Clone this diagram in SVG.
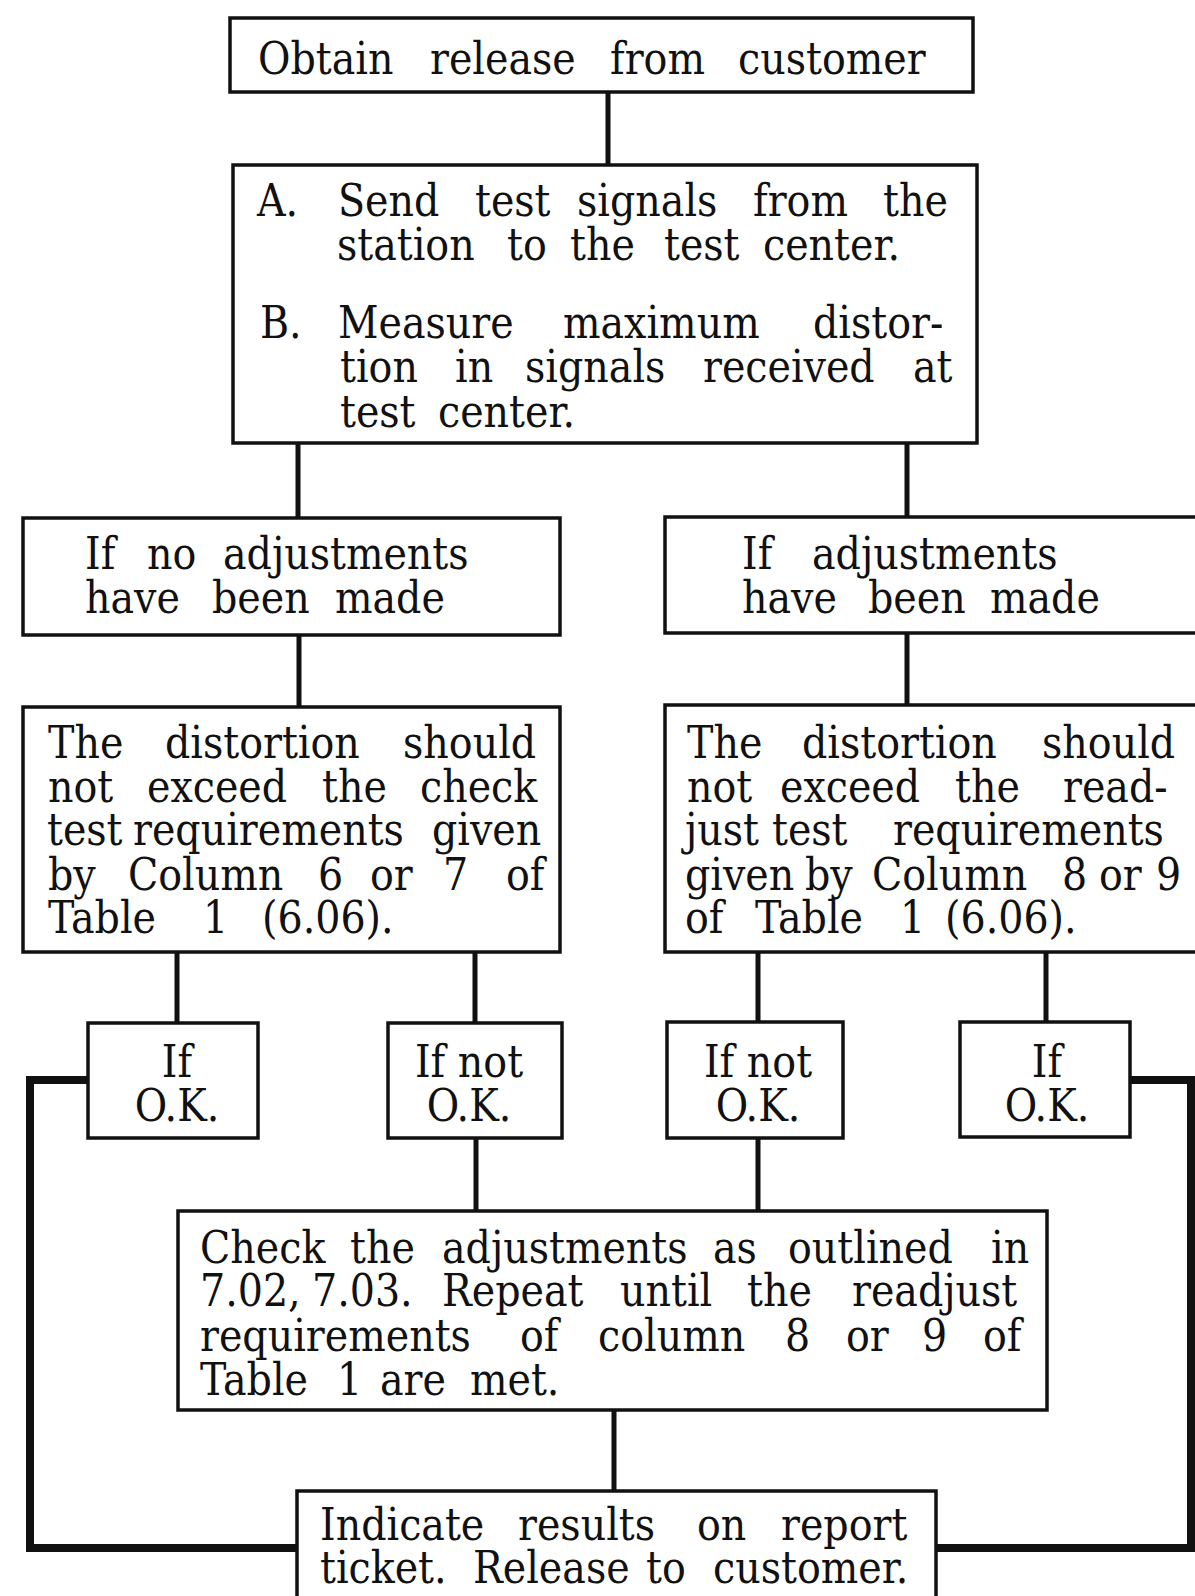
<svg xmlns="http://www.w3.org/2000/svg" width="1195" height="1596" viewBox="0 0 1195 1596">
<style>
.bg{fill:#ffffff}
.box{fill:#ffffff;stroke:#111;stroke-width:3.5}
.con{fill:none;stroke:#111;stroke-width:5}
.loop{fill:none;stroke:#111;stroke-width:8}
.t{font-family:'DejaVu Serif Condensed','DejaVu Serif',serif;font-stretch:condensed;font-size:44px;fill:#111}
.c{text-anchor:middle}
</style>
<rect class="bg" x="0" y="0" width="1195" height="1596"/>
<g id="connectors">
<line class="con" x1="608" y1="92" x2="608" y2="165"/>
<line class="con" x1="298" y1="443" x2="298" y2="518"/>
<line class="con" x1="907" y1="443" x2="907" y2="517"/>
<line class="con" x1="299" y1="635" x2="299" y2="707"/>
<line class="con" x1="907" y1="633" x2="907" y2="705"/>
<line class="con" x1="177" y1="952" x2="177" y2="1023"/>
<line class="con" x1="475" y1="952" x2="475" y2="1023"/>
<line class="con" x1="758" y1="952" x2="758" y2="1022"/>
<line class="con" x1="1046" y1="952" x2="1046" y2="1022"/>
<line class="con" x1="476" y1="1138" x2="476" y2="1211"/>
<line class="con" x1="758" y1="1138" x2="758" y2="1211"/>
<line class="con" x1="614" y1="1410" x2="614" y2="1491"/>
<polyline class="loop" points="88,1080 30,1080 30,1548 297,1548"/>
<polyline class="loop" points="1130,1080 1191,1080 1191,1548 936,1548"/>
</g>
<g id="n1">
<rect class="box" x="230" y="18" width="743" height="74"/>
<text class="t" y="74"><tspan x="258">Obtain</tspan><tspan x="430">release</tspan><tspan x="610">from</tspan><tspan x="738">customer</tspan></text>
</g>
<g id="n2">
<rect class="box" x="233" y="165" width="744" height="278"/>
<text class="t" y="216"><tspan x="257">A.</tspan><tspan x="338">Send</tspan><tspan x="475">test</tspan><tspan x="577">signals</tspan><tspan x="753">from</tspan><tspan x="883">the</tspan></text>
<text class="t" y="260"><tspan x="337">station</tspan><tspan x="507">to</tspan><tspan x="570">the</tspan><tspan x="664">test</tspan><tspan x="763">center.</tspan></text>
<text class="t" y="338"><tspan x="260">B.</tspan><tspan x="338">Measure</tspan><tspan x="563">maximum</tspan><tspan x="813">distor-</tspan></text>
<text class="t" y="382"><tspan x="340">tion</tspan><tspan x="455">in</tspan><tspan x="525">signals</tspan><tspan x="703">received</tspan><tspan x="913">at</tspan></text>
<text class="t" y="427"><tspan x="340">test</tspan><tspan x="438">center.</tspan></text>
</g>
<g id="n3">
<rect class="box" x="23" y="518" width="537" height="117"/>
<text class="t" y="569"><tspan x="85">If</tspan><tspan x="147">no</tspan><tspan x="223">adjustments</tspan></text>
<text class="t" y="613"><tspan x="85">have</tspan><tspan x="212">been</tspan><tspan x="335">made</tspan></text>
</g>
<g id="n4">
<rect class="box" x="665" y="517" width="540" height="116"/>
<text class="t" y="569"><tspan x="742">If</tspan><tspan x="812">adjustments</tspan></text>
<text class="t" y="613"><tspan x="742">have</tspan><tspan x="868">been</tspan><tspan x="990">made</tspan></text>
</g>
<g id="n5">
<rect class="box" x="23" y="707" width="537" height="245"/>
<text class="t" y="758"><tspan x="48">The</tspan><tspan x="165">distortion</tspan><tspan x="403">should</tspan></text>
<text class="t" y="802"><tspan x="48">not</tspan><tspan x="147">exceed</tspan><tspan x="322">the</tspan><tspan x="420">check</tspan></text>
<text class="t" y="845"><tspan x="47">test</tspan><tspan x="133">requirements</tspan><tspan x="432">given</tspan></text>
<text class="t" y="890"><tspan x="48">by</tspan><tspan x="128">Column</tspan><tspan x="318">6</tspan><tspan x="370">or</tspan><tspan x="443">7</tspan><tspan x="506">of</tspan></text>
<text class="t" y="933"><tspan x="48">Table</tspan><tspan x="203">1</tspan><tspan x="262">(6.06).</tspan></text>
</g>
<g id="n6">
<rect class="box" x="665" y="705" width="540" height="247"/>
<text class="t" y="758"><tspan x="687">The</tspan><tspan x="802">distortion</tspan><tspan x="1042">should</tspan></text>
<text class="t" y="802"><tspan x="687">not</tspan><tspan x="780">exceed</tspan><tspan x="955">the</tspan><tspan x="1063">read-</tspan></text>
<text class="t" y="845"><tspan x="685">just</tspan><tspan x="772">test</tspan><tspan x="893">requirements</tspan></text>
<text class="t" y="890"><tspan x="685">given</tspan><tspan x="805">by</tspan><tspan x="872">Column</tspan><tspan x="1062">8</tspan><tspan x="1099">or</tspan><tspan x="1156">9</tspan></text>
<text class="t" y="933"><tspan x="685">of</tspan><tspan x="755">Table</tspan><tspan x="900">1</tspan><tspan x="945">(6.06).</tspan></text>
</g>
<g id="n7">
<rect class="box" x="88" y="1023" width="170" height="115"/>
<text class="t c" x="177" y="1077">If</text>
<text class="t c" x="177" y="1121">O.K.</text>
</g>
<g id="n8">
<rect class="box" x="388" y="1023" width="174" height="115"/>
<text class="t c" x="469" y="1077">If not</text>
<text class="t c" x="469" y="1121">O.K.</text>
</g>
<g id="n9">
<rect class="box" x="667" y="1022" width="176" height="116"/>
<text class="t c" x="758" y="1077">If not</text>
<text class="t c" x="758" y="1121">O.K.</text>
</g>
<g id="n10">
<rect class="box" x="960" y="1022" width="170" height="115"/>
<text class="t c" x="1047" y="1077">If</text>
<text class="t c" x="1047" y="1121">O.K.</text>
</g>
<g id="n11">
<rect class="box" x="178" y="1211" width="869" height="199"/>
<text class="t" y="1263"><tspan x="200">Check</tspan><tspan x="350">the</tspan><tspan x="442">adjustments</tspan><tspan x="713">as</tspan><tspan x="788">outlined</tspan><tspan x="991">in</tspan></text>
<text class="t" y="1306"><tspan x="200">7.02,</tspan><tspan x="312">7.03.</tspan><tspan x="442">Repeat</tspan><tspan x="620">until</tspan><tspan x="747">the</tspan><tspan x="852">readjust</tspan></text>
<text class="t" y="1351"><tspan x="200">requirements</tspan><tspan x="520">of</tspan><tspan x="598">column</tspan><tspan x="785">8</tspan><tspan x="846">or</tspan><tspan x="922">9</tspan><tspan x="983">of</tspan></text>
<text class="t" y="1395"><tspan x="200">Table</tspan><tspan x="337">1</tspan><tspan x="380">are</tspan><tspan x="470">met.</tspan></text>
</g>
<g id="n12">
<rect class="box" x="297" y="1491" width="639" height="115"/>
<text class="t" y="1540"><tspan x="320">Indicate</tspan><tspan x="518">results</tspan><tspan x="697">on</tspan><tspan x="781">report</tspan></text>
<text class="t" y="1583"><tspan x="320">ticket.</tspan><tspan x="473">Release</tspan><tspan x="646">to</tspan><tspan x="713">customer.</tspan></text>
</g>
</svg>
